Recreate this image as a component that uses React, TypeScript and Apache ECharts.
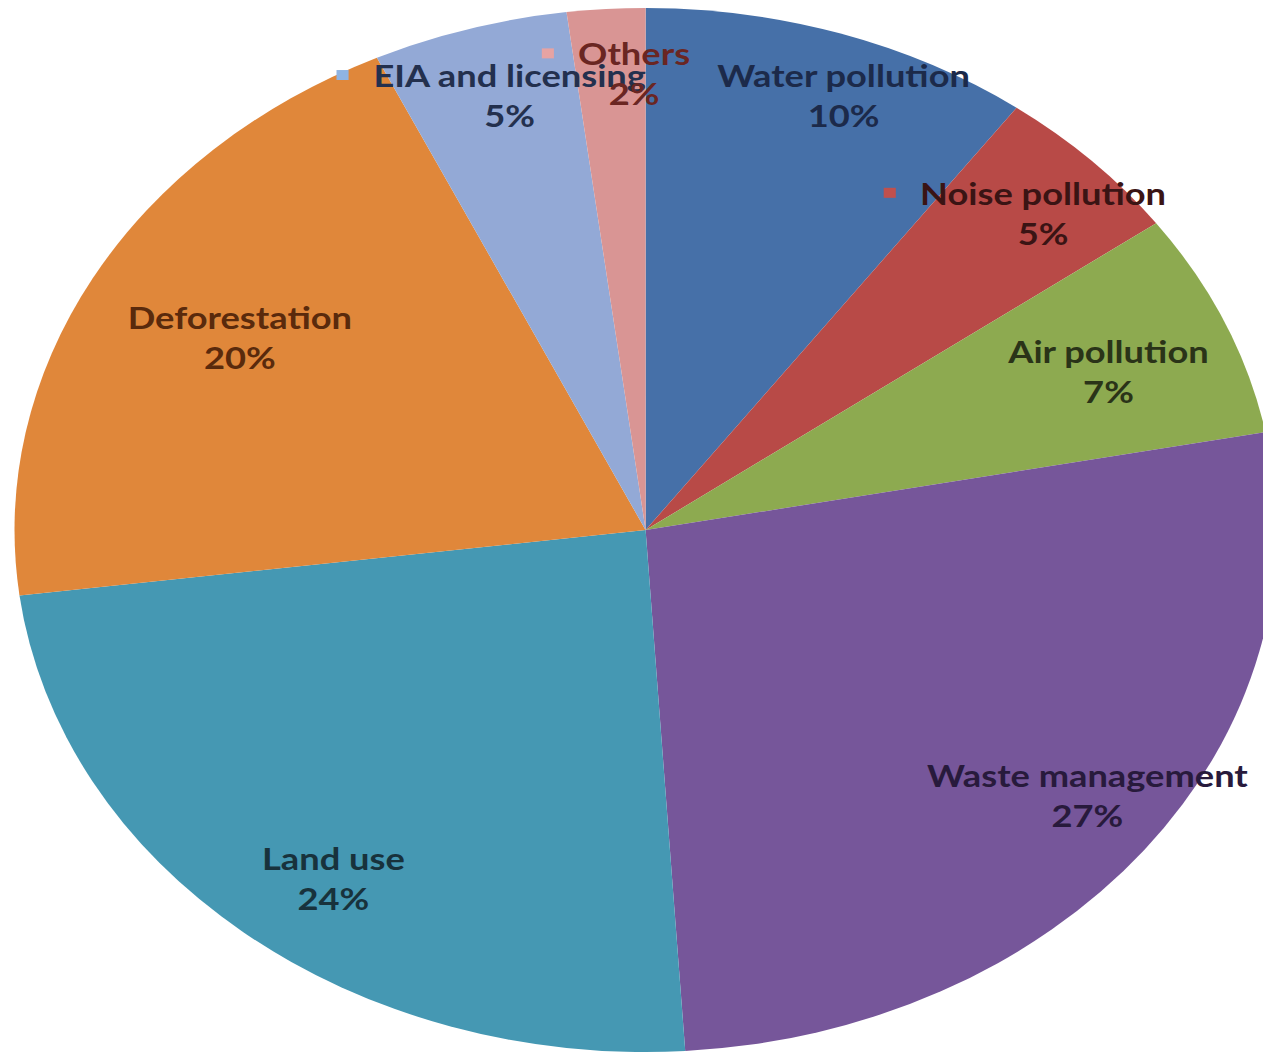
import React, { useEffect, useRef } from "react";
import * as echarts from "echarts";

const categories = [
  "Water pollution",
  "Noise pollution",
  "Air pollution",
  "Waste management",
  "Land use",
  "Deforestation",
  "EIA and licensing",
  "Others",
];
const values = [10, 5, 7, 27, 24, 20, 5, 2];
const colors = ["#4670A8", "#B84A47", "#8DAA50", "#76569A", "#4598B3", "#E0873A", "#93A9D6", "#D99594"];
const labelColors = ["#1c2a4a", "#3a1414", "#2a3318", "#281a3c", "#18323c", "#5a2a0c", "#23304e", "#6a2622"];
const keyColors = [null, "#C0504D", null, null, null, null, "#8FB4E3", "#E6A3A3"];
// label nudges in display pixels
const labelNudgeX = [33, 20, -27, 20, 28, 62, 13, 22];
const labelNudgeY = [-15, -5, 17, -5, 8, 20, -11, -16];

const SX = 1.209;
const W = 1263;
const H = 1057;
const CW = Math.round(W / SX);

export default function App() {
  const ref = useRef<HTMLDivElement>(null);
  useEffect(() => {
    if (!ref.current) return;
    const chart = echarts.init(ref.current, null, { renderer: "svg" });
    const base = categories.map((name, i) => ({
      name,
      value: values[i],
      itemStyle: { color: colors[i] },
    }));
    const labelData = categories.map((name, i) => {
      const key = keyColors[i];
      const rich: any = {
        t: { color: labelColors[i], fontFamily: "Lato", fontWeight: "bold", fontSize: 30, lineHeight: 40 },
        k: { width: 10, height: 10, backgroundColor: key || "transparent" },
        g: { width: 20 },
        e: { width: 30 },
      };
      return {
        name,
        value: values[i],
        itemStyle: { color: "rgba(0,0,0,0)" },
        label: {
          formatter: key ? "{k|}{g|}{t|{b}}{e|}\n{t|{d}%}" : "{t|{b}}\n{t|{d}%}",
          rich,
        },
      };
    });
    chart.setOption({
      animation: false,
      series: [
        {
          type: "pie",
          center: [534, 530],
          radius: 522,
          startAngle: 90,
          clockwise: true,
          silent: true,
          label: { show: false },
          labelLine: { show: false },
          data: base,
        },
        {
          type: "pie",
          center: [534, 530],
          radius: [355, 522],
          startAngle: 90,
          clockwise: true,
          silent: true,
          avoidLabelOverlap: false,
          label: { show: true, position: "inside", align: "center" },
          labelLine: { show: false },
          labelLayout: (p: any) => ({
            dx: labelNudgeX[p.dataIndex] / SX,
            dy: labelNudgeY[p.dataIndex],
            hideOverlap: false,
          }),
          data: labelData,
        },
      ],
    });
    return () => chart.dispose();
  }, []);
  return (
    <div style={{ position: "absolute", left: 0, top: 0, width: W, height: H, overflow: "hidden", background: "#fff" }}>
      <div
        ref={ref}
        style={{ width: CW, height: H, transform: `scaleX(${SX})`, transformOrigin: "0 0" }}
      />
    </div>
  );
}
